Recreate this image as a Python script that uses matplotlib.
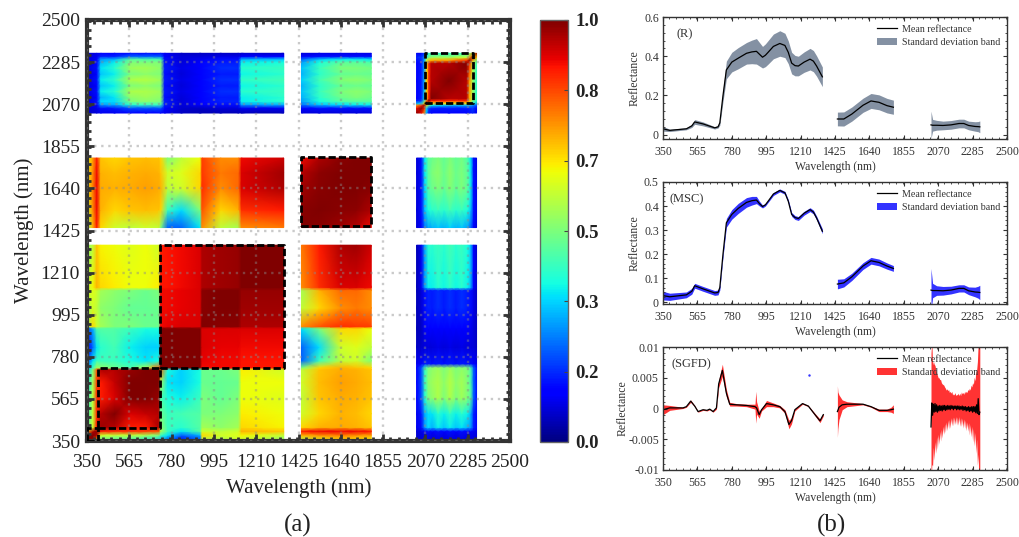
import numpy as np
import matplotlib
matplotlib.use('Agg')
import matplotlib.pyplot as plt
from matplotlib.ticker import MultipleLocator

plt.rcParams['font.family'] = ['Liberation Serif', 'DejaVu Serif']

W, H = 1019, 537

# ---- heat map data
wl_ticks = [350, 565, 780, 995, 1210, 1425, 1640, 1855, 2070, 2285, 2500]
cbar_ticks = [0, 1/6, 2/6, 3/6, 4/6, 5/6, 1]

vnir_nodes = [350, 380, 400, 420, 490, 570, 650, 715, 725, 760, 830, 925, 935, 1030, 1120, 1135, 1350]
vnir_lower = [
    [1.0],
    [.97, 1.0],
    [.72, .95, 1.0],
    [.45, .60, .88, .97],
    [.42, .58, .86, .95, 1.0],
    [.40, .58, .86, .88, .92, 1.0],
    [.36, .55, .84, .88, .94, 1.0, 1.0],
    [.33, .50, .82, .96, .95, .98, 1.0, 1.0],
    [.30, .42, .55, .52, .48, .44, .55, .80, 1.0],
    [.18, .35, .42, .42, .42, .38, .35, .38, 1.0, 1.0],
    [.10, .22, .35, .40, .43, .36, .33, .33, 1.0, 1.0, 1.0],
    [.18, .30, .45, .45, .45, .42, .38, .38, 1.0, 1.0, 1.0, 1.0],
    [.55, .68, .60, .55, .50, .50, .48, .48, .90, .91, .92, .92, 1.0],
    [.55, .60, .58, .52, .50, .47, .47, .48, .90, .90, .91, .92, .99, 1.0],
    [.60, .62, .60, .55, .52, .50, .48, .50, .90, .90, .91, .92, .99, 1.0, 1.0],
    [.58, .65, .72, .68, .66, .64, .64, .66, .89, .89, .90, .92, .96, .97, .98, 1.0],
    [.52, .58, .70, .65, .64, .62, .64, .60, .88, .89, .90, .92, .96, .97, .98, 1.0, 1.0],
]

swir1_nodes = [1440, 1530, 1640, 1720, 1795]
swir1_vnir = [
    [.55, .62, .66, .66, .64],
    [.72, .76, .78, .76, .74],
    [.88, .90, .90, .90, .88],
    [.68, .72, .73, .72, .70],
    [.60, .68, .72, .71, .68],
    [.58, .70, .73, .72, .70],
    [.60, .71, .74, .73, .71],
    [.58, .70, .73, .72, .70],
    [.50, .68, .72, .70, .68],
    [.22, .42, .58, .60, .50],
    [.22, .34, .60, .62, .58],
    [.35, .50, .68, .68, .64],
    [.76, .82, .86, .85, .84],
    [.58, .68, .76, .78, .76],
    [.55, .72, .80, .80, .76],
    [.76, .86, .92, .92, .90],
    [.78, .88, .96, .97, .93],
]
swir1_lower = [
    [1.0],
    [.99, 1.0],
    [.97, .99, 1.0],
    [.95, .985, 1.0, 1.0],
    [.90, .96, .99, 1.0, 1.0],
]

swir2_nodes = [2025, 2050, 2068, 2085, 2105, 2135, 2165, 2195, 2225, 2255, 2285, 2300, 2315, 2330]
c_rows = [350, 400, 420, 490, 570, 650, 725, 745, 830, 925, 1030, 1120, 1135, 1350]
swir2_vnir = [
    [.07, .07, .08, .08, .07, .08, .07, .08, .07, .08, .07, .07, .08, .07],
    [.08, .09, .12, .14, .12, .14, .12, .14, .12, .14, .12, .12, .10, .09],
    [.10, .14, .28, .34, .30, .36, .32, .36, .32, .35, .30, .28, .16, .12],
    [.10, .15, .30, .34, .35, .40, .36, .41, .36, .40, .36, .30, .16, .12],
    [.12, .20, .40, .50, .52, .56, .50, .56, .50, .54, .50, .46, .22, .14],
    [.12, .20, .42, .52, .54, .56, .52, .57, .52, .55, .50, .44, .22, .14],
    [.12, .20, .42, .50, .52, .54, .50, .54, .50, .52, .50, .44, .22, .14],
    [.10, .12, .15, .15, .14, .15, .14, .15, .14, .15, .14, .14, .12, .10],
    [.06, .07, .08, .08, .08, .09, .08, .09, .08, .09, .08, .08, .08, .06],
    [.05, .06, .11, .12, .11, .12, .11, .12, .11, .12, .11, .10, .08, .06],
    [.05, .08, .14, .16, .15, .17, .15, .17, .15, .17, .15, .14, .09, .06],
    [.05, .08, .14, .16, .15, .17, .15, .17, .15, .17, .15, .14, .09, .06],
    [.05, .10, .28, .36, .36, .40, .37, .41, .37, .40, .36, .30, .12, .07],
    [.05, .10, .30, .40, .40, .42, .40, .43, .40, .42, .38, .32, .12, .07],
]
swir2_swir1 = [
    [.08, .12, .24, .28, .30, .32, .30, .33, .30, .32, .28, .22, .13, .08],
    [.08, .14, .32, .38, .40, .42, .40, .43, .40, .42, .38, .32, .14, .09],
    [.08, .14, .34, .45, .48, .50, .47, .51, .47, .50, .46, .36, .14, .09],
    [.08, .14, .36, .46, .50, .52, .48, .52, .48, .50, .46, .36, .14, .09],
    [.08, .14, .36, .46, .48, .50, .47, .50, .47, .49, .44, .35, .14, .09],
]

f_nodes = [2025, 2050, 2065, 2075, 2088, 2100, 2190, 2280, 2295, 2310, 2330]
f_lower = [
    [1.0],
    [.90, 1.0],
    [.75, .87, 1.0],
    [.30, .35, .70, 1.0],
    [.15, .18, .45, .80, 1.0],
    [.12, .15, .35, .68, .88, 1.0],
    [.12, .15, .30, .66, .86, .95, 1.0],
    [.12, .15, .30, .66, .86, .95, .95, 1.0],
    [.14, .16, .30, .60, .70, .72, .74, .86, 1.0],
    [.16, .18, .25, .40, .50, .55, .55, .60, .75, 1.0],
    [.10, .12, .20, .30, .40, .40, .40, .42, .50, .70, 1.0],
]

boxes = [(350, 350, 405, 415), (405, 415, 720, 725), (720, 725, 1350, 1350),
         (1440, 1450, 1795, 1800), (2068, 2076, 2312, 2330)]

# ---- spectra, three bands each
wl1 = [350, 392, 496, 530, 548, 600, 673, 694, 705, 725, 746, 780, 820, 872, 905, 934, 953, 972, 990, 1007, 1040, 1080, 1112, 1133, 1154, 1175, 1196, 1232, 1269, 1290, 1310, 1346]
wl2 = [1440, 1480, 1530, 1600, 1650, 1700, 1750, 1790]
wl3 = [2025, 2035, 2060, 2100, 2150, 2200, 2230, 2260, 2300, 2320, 2330]

r_mean1 = [.030, .022, .030, .045, .065, .055, .035, .040, .060, .200, .330, .370, .390, .415, .422, .425, .410, .395, .405, .420, .450, .465, .455, .420, .365, .352, .350, .370, .385, .375, .350, .295]
r_std1 = [.012, .006, .005, .008, .012, .010, .006, .006, .012, .030, .045, .050, .054, .055, .060, .065, .060, .055, .058, .060, .063, .065, .062, .058, .055, .052, .050, .052, .055, .054, .052, .050]
r_mean2 = [.080, .080, .105, .150, .172, .165, .148, .140]
r_std2 = [.035, .036, .036, .036, .038, .038, .037, .036]
r_mean3 = [.050, .048, .048, .047, .050, .057, .057, .047, .042, .041, .040]
r_std3 = [.070, .030, .025, .022, .022, .022, .022, .022, .024, .026, .030]

msc_mean1 = [.027, .022, .030, .045, .068, .055, .038, .040, .060, .200, .330, .365, .390, .415, .422, .425, .410, .398, .405, .420, .450, .465, .455, .420, .365, .352, .348, .370, .385, .375, .350, .295]
msc_std1 = [.018, .015, .012, .012, .010, .010, .010, .010, .010, .012, .018, .020, .021, .020, .018, .015, .010, .006, .005, .005, .006, .006, .006, .007, .008, .008, .008, .008, .008, .008, .008, .010]
msc_mean2 = [.075, .080, .105, .150, .172, .165, .150, .140]
msc_std2 = [.020, .017, .015, .014, .014, .014, .013, .012]
msc_mean3 = [.050, .048, .048, .047, .050, .057, .057, .047, .042, .041, .040]
msc_std3 = [.090, .030, .020, .018, .016, .015, .015, .016, .020, .025, .030]

sg_wl1 = [350, 392, 475, 496, 523, 548, 569, 600, 625, 642, 663, 684, 698, 721, 746, 767, 809, 872, 925, 930, 935, 951, 966, 997, 1039, 1080, 1112, 1137, 1153, 1174, 1222, 1258, 1300, 1331, 1352]
sg_mean1 = [-.0002, .0001, .0001, .0003, .0012, .0004, -.0005, -.0002, -.0003, -.0001, -.0005, .0001, .0040, .0062, .0025, .0007, .0006, .0005, .0003, .0002, .0001, -.0010, -.0002, .0008, .0006, .0003, -.0005, -.0026, -.0020, -.0002, .0008, .0004, -.0010, -.0020, -.0010]
sg_std1 = [.0008, .0004, .0001, .0001, .0002, .0001, .0001, .0001, .0001, .0001, .0001, .0002, .0006, .0010, .0006, .0003, .0002, .0002, .0004, .0026, .0010, .0006, .0002, .0005, .0003, .0002, .0003, .0007, .0005, .0002, .0001, .0001, .0002, .0003, .0002]
sg_wl2 = [1440, 1443, 1450, 1470, 1500, 1600, 1650, 1700, 1750, 1775, 1790]
sg_mean2 = [-.0005, -.0003, .0002, .0006, .0007, .0007, .0003, -.0003, -.0003, -.0002, -.0001]
sg_std2 = [.0042, .0030, .0020, .0008, .0004, .0001, .0001, .0002, .0002, .0004, .0007]
sg_wl3 = [2025, 2030, 2035, 2040, 2045, 2050, 2055, 2060, 2065, 2070, 2075, 2080, 2085, 2090, 2095, 2100, 2105, 2110, 2115, 2120,
          2125, 2130, 2135, 2140, 2145, 2150, 2155, 2160, 2165, 2170, 2175, 2180, 2185, 2190, 2195, 2200, 2205, 2210, 2215, 2220,
          2225, 2230, 2235, 2240, 2245, 2250, 2255, 2260, 2265, 2270, 2275, 2280, 2285, 2290, 2295, 2300, 2305, 2310, 2315, 2320, 2325, 2330]
sg_mean3 = [-.0030, .0009, -.0011, .0007, -.0006, .0008, -.0005, .0006, -.0006, .0004, -.0004, .0005, -.0003, .0004, -.0004, .0005, -.0002, .0005, -.0003, .0004,
            -.0002, .0005, -.0001, .0004, -.0002, .0005, .0000, .0004, -.0002, .0004, .0000, .0004, -.0002, .0004, -.0001, .0004, -.0002, .0003, -.0001, .0004,
            -.0003, .0003, -.0002, .0003, -.0004, .0002, -.0003, .0003, -.0005, .0002, -.0004, .0003, -.0006, .0003, -.0005, .0003, -.0007, .0006, -.0008, .0016, -.0010, -.0006]
sg_std3 = [.0120, .0100, .0082, .0070, .0078, .0062, .0068, .0052, .0060, .0046, .0054, .0042, .0050, .0038, .0044, .0034, .0040, .0030, .0036, .0026,
           .0034, .0024, .0032, .0022, .0030, .0020, .0028, .0018, .0026, .0018, .0026, .0017, .0025, .0018, .0026, .0017, .0027, .0018, .0028, .0020,
           .0029, .0020, .0030, .0022, .0032, .0024, .0034, .0026, .0038, .0028, .0042, .0032, .0048, .0036, .0056, .0042, .0066, .0056, .0084, .0090, .0120, .0120]


def pos(left, top, right, bottom):
    return [left / W, 1 - bottom / H, (right - left) / W, (bottom - top) / H]


def mirror(rows):
    n = len(rows)
    m = np.zeros((n, n))
    for i, r in enumerate(rows):
        m[i, :len(r)] = r
        m[:len(r), i] = r
    return m


fig = plt.figure(figsize=(W / 100, H / 100), dpi=100)

# ---- (a) correlation map
ax = fig.add_axes(pos(87, 20, 510, 441))
blocks = [
    (vnir_nodes, vnir_nodes, mirror(vnir_lower)),
    (swir1_nodes, vnir_nodes, np.array(swir1_vnir)),
    (vnir_nodes, swir1_nodes, np.array(swir1_vnir).T),
    (swir1_nodes, swir1_nodes, mirror(swir1_lower)),
    (swir2_nodes, c_rows, np.array(swir2_vnir)),
    (c_rows, swir2_nodes, np.array(swir2_vnir).T),
    (swir2_nodes, swir1_nodes, np.array(swir2_swir1)),
    (swir1_nodes, swir2_nodes, np.array(swir2_swir1).T),
    (f_nodes, f_nodes, mirror(f_lower)),
]
for xs, ys, vals in blocks:
    mesh = ax.pcolormesh(xs, ys, vals, cmap='jet', vmin=0, vmax=1, shading='gouraud', zorder=1, rasterized=True)

for x0, y0, x1, y1 in boxes:
    ax.plot([x0, x1, x1, x0, x0], [y0, y0, y1, y1, y0], color='k', lw=2, ls=(0, (2.6, 1.1)), zorder=3)

ax.set_xlim(350, 2500)
ax.set_ylim(350, 2500)
ax.set_xticks(wl_ticks)
ax.set_yticks(wl_ticks)
ax.xaxis.set_minor_locator(MultipleLocator(43))
ax.yaxis.set_minor_locator(MultipleLocator(43))
ax.grid(True, which='major', color='#8a8a8a', alpha=0.45, lw=1.7, ls=(0, (1, 2)), zorder=2)
ax.set_axisbelow(False)
ax.tick_params(which='major', direction='in', top=True, right=True, length=5, width=2, color='#333333',
               labelsize=14, labelcolor='#222222')
ax.tick_params(axis='x', which='major', pad=9.5)
ax.tick_params(axis='y', which='major', pad=5)
ax.tick_params(which='minor', direction='in', top=True, right=True, length=3, width=2, color='#333333')
for s in ax.spines.values():
    s.set_linewidth(3)
    s.set_color('#333333')
ax.set_xlabel('Wavelength (nm)', fontsize=15, color='#222222', labelpad=5)
ax.set_ylabel('Wavelength (nm)', fontsize=15, color='#222222', labelpad=5)

cax = fig.add_axes(pos(540, 20, 568, 442))
cb = fig.colorbar(mesh, cax=cax, ticks=cbar_ticks)
cb.ax.set_yticklabels(['%.1f' % t for t in cbar_ticks], fontweight='bold', fontsize=13.5, color='#222222')
cb.ax.tick_params(direction='in', length=3, width=0.8, color='#444444', pad=5.5)
cb.outline.set_edgecolor('#666666')
cb.outline.set_linewidth(1)

fig.text(298 / W, 1 - 525 / H, '(a)', fontsize=18, ha='center', va='center', color='#222222')
fig.text(831 / W, 1 - 525 / H, '(b)', fontsize=18, ha='center', va='center', color='#222222')

# ---- (b) spectra
panels = [
    ('(R)', 0.04, (663, 17, 1007, 139), (-0.022, 0.6), [0, .2, .4, .6], ['0', '0.2', '0.4', '0.6'], 0.04, '#8491a3',
     [(wl1, r_mean1, r_std1), (wl2, r_mean2, r_std2), (wl3, r_mean3, r_std3)]),
    ('(MSC)', 0.02, (663, 182, 1007, 304), (-0.008, 0.5), [0, .1, .2, .3, .4, .5], ['0', '0.1', '0.2', '0.3', '0.4', '0.5'], 0.02, '#3333ff',
     [(wl1, msc_mean1, msc_std1), (wl2, msc_mean2, msc_std2), (wl3, msc_mean3, msc_std3)]),
    ('(SGFD)', 0.025, (663, 347, 1007, 470), (-0.01, 0.01), [-.01, -.005, 0, .005, .01], ['-0.01', '-0.005', '0', '0.005', '0.01'], 0.001, '#ff3333',
     [(sg_wl1, sg_mean1, sg_std1), (sg_wl2, sg_mean2, sg_std2), (sg_wl3, sg_mean3, sg_std3)]),
]
for name, name_x, box, ylim, yt, ytl, yminor, col, segs in panels:
    a = fig.add_axes(pos(*box))
    for i, (w, m, s) in enumerate(segs):
        m = np.array(m)
        s = np.array(s)
        band = a.fill_between(w, m - s, m + s, color=col, lw=0)
        line, = a.plot(w, m, color='k', lw=0.9)
    a.set_xlim(350, 2500)
    a.set_ylim(*ylim)
    a.set_xticks(wl_ticks)
    a.set_yticks(yt)
    a.set_yticklabels(ytl)
    a.xaxis.set_minor_locator(MultipleLocator(43))
    a.yaxis.set_minor_locator(MultipleLocator(yminor))
    a.tick_params(which='major', direction='in', top=True, right=True, length=3, width=0.8, labelsize=8.5, color='#333333', labelcolor='#333333')
    a.tick_params(axis='x', which='major', pad=5)
    a.tick_params(axis='y', which='major', pad=3)
    a.tick_params(which='minor', direction='in', top=True, right=True, length=1.5, width=0.6, color='#333333')
    for sp in a.spines.values():
        sp.set_linewidth(1)
        sp.set_color('#333333')
    a.set_xlabel('Wavelength (nm)', fontsize=8.4, labelpad=2, color='#333333')
    a.set_ylabel('Reflectance', fontsize=8.5, color='#333333')
    a.yaxis.set_label_coords(-0.065 if name != '(SGFD)' else -0.10, 0.5)
    a.text(name_x, 0.86, name, transform=a.transAxes, fontsize=9, color='#333333', ha='left', va='center')
    a.legend([line, band], ['Mean reflectance', 'Standard deviation band'],
             loc='upper right', bbox_to_anchor=(1.0, 0.995), frameon=False, fontsize=7.2, handlelength=2,
             labelspacing=0.45, borderpad=0.2, handletextpad=0.5, labelcolor='#333333')
    if name == '(SGFD)':
        a.plot([1264], [.0055], '.', color='#3333ff', ms=1.5)

fig.savefig('out.png', dpi=100)
